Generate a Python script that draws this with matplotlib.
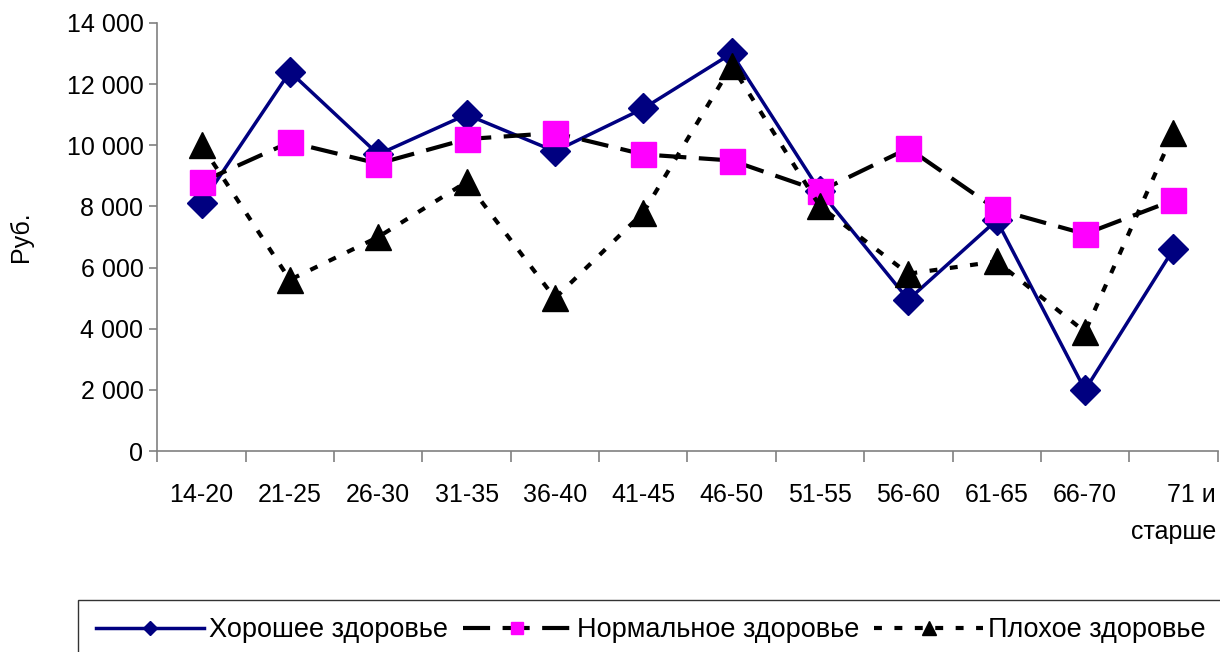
import numpy as np
import matplotlib.pyplot as plt
from matplotlib.ticker import FuncFormatter, MultipleLocator
from matplotlib.transforms import blended_transform_factory, ScaledTranslation

plt.rcParams['font.family'] = ['Liberation Sans', 'DejaVu Sans']

ages = ["14-20", "21-25", "26-30", "31-35", "36-40", "41-45", "46-50",
        "51-55", "56-60", "61-65", "66-70", "71 и\nстарше"]
good = [8100, 12400, 9700, 11000, 9800, 11200, 13000, 8500, 4950, 7550, 2000, 6600]
normal = [8800, 10100, 9400, 10200, 10400, 9700, 9500, 8500, 9900, 7900, 7100, 8200]
bad = [10000, 5600, 7000, 8800, 5000, 7800, 12600, 8000, 5800, 6200, 3900, 10400]

fig = plt.figure(figsize=(12.2, 6.52), dpi=100)
ax = fig.add_axes([0.129, 0.308, 0.869, 0.657])

x = np.arange(len(ages))
ax.plot(x, good, color="#000080", lw=2.5, marker="D", ms=15,
        label="Хорошее здоровье", zorder=3)
ax.plot(x, normal, color="black", lw=3.0, dashes=(6.5, 3), marker="s", ms=18,
        mfc="#ff00ff", mec="#ff00ff", label="Нормальное здоровье", zorder=4)
ax.plot(x, bad, color="black", lw=3.0, dashes=(1.9, 3), marker="^", ms=19,
        mfc="black", mec="black", label="Плохое здоровье", zorder=5)

ax.set_xlim(-0.5, len(ages) - 0.5)
ax.set_ylim(0, 14000)
ax.yaxis.set_major_locator(MultipleLocator(2000))
ax.yaxis.set_major_formatter(FuncFormatter(lambda v, p: f"{int(v):,}".replace(",", " ")))
ax.set_xticks(x)
ax.set_xticklabels(ages[:-1] + [""])
ax.set_xticks(np.arange(len(ages) + 1) - 0.5, minor=True)
ax.tick_params(axis="x", which="major", length=0, pad=23, labelsize=18)
ax.tick_params(axis="x", which="minor", length=8, color="#808080", width=1.2)
ax.tick_params(axis="y", length=6, color="#808080", width=1.2, labelsize=18, pad=4)

# last category label, right-aligned to the edge like the original
trans = blended_transform_factory(ax.transData, ax.transAxes) + \
    ScaledTranslation(0, -23 / 72, fig.dpi_scale_trans)
ax.text(len(ages) - 0.52, 0, ages[-1], transform=trans, ha="right", va="top",
        multialignment="right", fontsize=18, linespacing=1.7)

for s in ["top", "right"]:
    ax.spines[s].set_visible(False)
for s in ["left", "bottom"]:
    ax.spines[s].set_color("#808080")
    ax.spines[s].set_linewidth(1.2)

ax.set_ylabel("Руб.", fontsize=18, labelpad=24)

leg = fig.legend(loc="upper left", bbox_to_anchor=(0.064, 0.08), ncol=3,
                 fontsize=19.5, frameon=True, fancybox=False, handlelength=4.0,
                 columnspacing=0.55, handletextpad=0.2, borderpad=0.65,
                 borderaxespad=0, markerscale=0.5)
leg.get_frame().set_edgecolor("black")
leg.get_frame().set_linewidth(1.0)

fig.savefig("out.png", dpi=100)
